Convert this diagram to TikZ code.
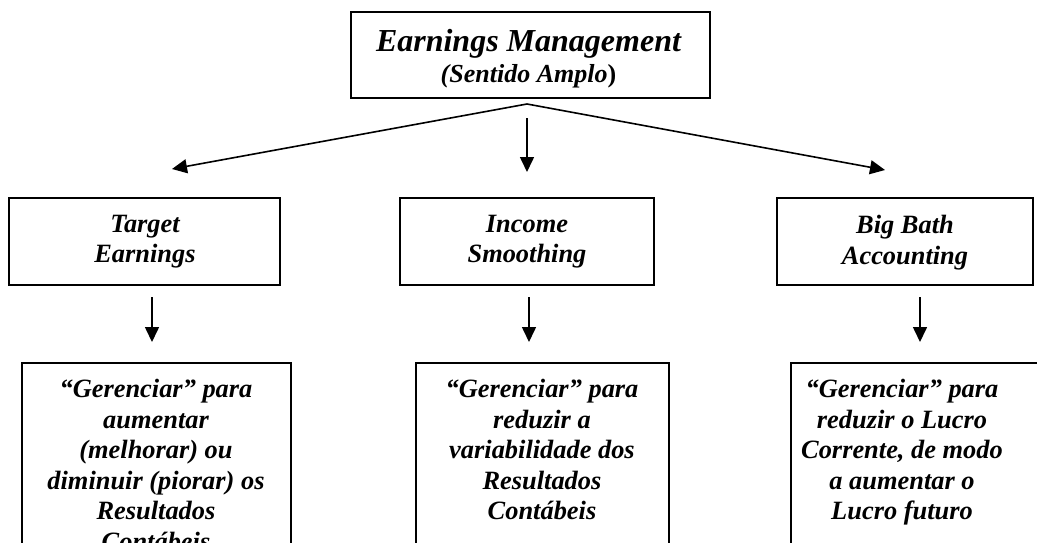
\documentclass[tikz,border=0pt]{standalone}
\usepackage{fontspec}
\setmainfont{Liberation Serif}
\usetikzlibrary{arrows.meta}
\begin{document}
\begin{tikzpicture}[x=1pt,y=-1pt,
  box/.style={draw,line width=1.8pt,inner sep=0pt},
  txt/.style={font=\bfseries\itshape\fontsize{26.4}{30.5}\selectfont,align=center,inner sep=0pt,anchor=north},
  arr/.style={line width=1.6pt,-{Triangle[length=15pt,width=14pt]}}]
\useasboundingbox (0,0) rectangle (1037,543);
\clip (0,0) rectangle (1037,543);
% top box
\node[box,minimum width=359pt,minimum height=86pt] (top) at (530.5,55) {};
\node[anchor=base,inner sep=0pt,font=\bfseries\itshape\fontsize{32}{38}\selectfont] (toptitle) at (528.5,52) {Earnings Management};
\node[anchor=base,inner sep=0pt,font=\bfseries\itshape\fontsize{26}{30}\selectfont] (topsub) at (528.5,83) {(Sentido Amplo{\upshape)}};
% middle row boxes
\node[box,minimum width=271pt,minimum height=87pt] (t1) at (144.5,241.5) {};
\node[box,minimum width=254pt,minimum height=87pt] (t2) at (527,241.5) {};
\node[box,minimum width=256pt,minimum height=87pt] (t3) at (905,241.5) {};
\node[txt] (t1txt) at (145,215) {Target\\Earnings};
\node[txt] (t2txt) at (527,215) {Income\\Smoothing};
\node[txt] (t3txt) at (905,215) {Big Bath\\Accounting};
% bottom row boxes (cut off by page edge)
\node[box,minimum width=269pt,minimum height=237pt] (b1) at (156.5,481.5) {};
\node[box,minimum width=253pt,minimum height=237pt] (b2) at (542.5,481.5) {};
\node[box,minimum width=279pt,minimum height=237pt] (b3) at (930.5,481.5) {};
\node[txt] (b1txt) at (156,379) {“Gerenciar” para\\aumentar\\(melhorar) ou\\diminuir (piorar) os\\Resultados\\Contábeis};
\node[txt] (b2txt) at (542,379) {“Gerenciar” para\\reduzir a\\variabilidade dos\\Resultados\\Contábeis};
\node[txt] (b3txt) at (902,379) {“Gerenciar” para\\reduzir o Lucro\\Corrente, de modo\\a aumentar o\\Lucro futuro};
% connectors
\coordinate (apex) at (527,104);
\coordinate (ltip) at (172,169);
\coordinate (rtip) at (885,170);
\coordinate (mtop) at (527,118);
\coordinate (mtip) at (527,172);
\draw[arr] (apex) -- (ltip);
\draw[arr] (apex) -- (rtip);
\draw[arr] (mtop) -- (mtip);
\coordinate (d1s) at (152,297); \coordinate (d1e) at (152,342);
\coordinate (d2s) at (529,297); \coordinate (d2e) at (529,342);
\coordinate (d3s) at (920,297); \coordinate (d3e) at (920,342);
\draw[arr] (d1s) -- (d1e);
\draw[arr] (d2s) -- (d2e);
\draw[arr] (d3s) -- (d3e);
\end{tikzpicture}
\end{document}
